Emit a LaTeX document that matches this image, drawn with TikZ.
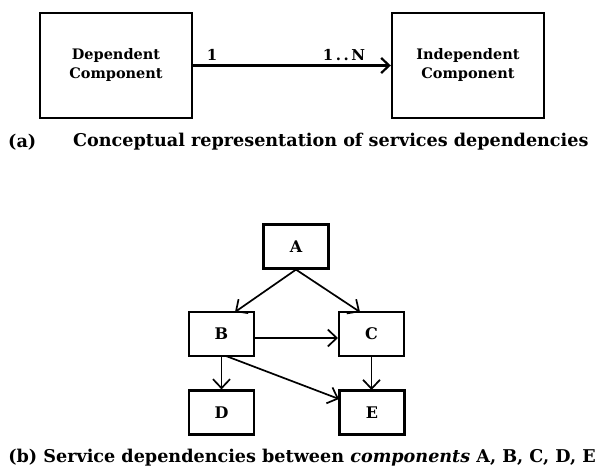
\documentclass[tikz,border=0pt]{standalone}
\usepackage{fontspec}
\setmainfont{DejaVu Serif}
\usetikzlibrary{arrows.meta}
\begin{document}
\begin{tikzpicture}[x=1pt,y=-1pt,
  bigbox/.style={draw,line width=2.4pt,minimum width=152pt,minimum height=105pt,inner sep=0pt,
    align=center,font=\bfseries\fontsize{14.5}{19}\selectfont},
  smallbox/.style={draw,line width=2.2pt,minimum width=65pt,minimum height=44pt,inner sep=0pt,
    font=\bfseries\fontsize{16}{18}\selectfont},
  toparrow/.style={line width=2.2pt,-{Straight Barb[length=8pt,width=15pt,line width=2.2pt]}},
  deparrow/.style={line width=1.7pt,-{Straight Barb[length=9pt,width=17pt,line width=1.7pt]}},
  lbl/.style={font=\bfseries\fontsize{15}{17}\selectfont,inner sep=0pt},
  captext/.style={font=\bfseries\fontsize{17.6}{20}\selectfont,inner sep=0pt,anchor=west}]
\useasboundingbox (0,0) rectangle (606,476);
% part (a)
\node[bigbox] (dep) at (116,65.5) {Dependent\\Component};
\node[bigbox] (ind) at (468,65.5) {Independent\\Component};
\draw[toparrow] (dep.east) -- (ind.west);
\node[lbl] (one) at (212,55) {1};
\node[lbl] (many) at (344,55) {1\,.\,.\,N};
\node[captext] (capa) at (8,142) {(a)};
\node[captext] (capat) at (73,142) {Conceptual representation of services dependencies};
% part (b)
\node[smallbox] (A) at (296,246.5) {A};
\node[smallbox] (B) at (221.5,334) {B};
\node[smallbox] (C) at (371.5,334) {C};
\node[smallbox] (D) at (221.5,412.5) {D};
\node[smallbox] (E) at (372,412.5) {E};
\coordinate (Bt) at (235,312);
\coordinate (Ct) at (360,312);
\coordinate (Bs) at (226,356);
\coordinate (Bc) at (253,338);
\coordinate (Cc) at (338,338);
\coordinate (Ew) at (339,399);
\coordinate (Es) at (371.5,390);
\draw[deparrow] (A.south) -- (Bt);
\draw[deparrow] (A.south) -- (Ct);
\draw[deparrow] (Bc) -- (Cc);
\draw[deparrow] (B.south) -- (D.north);
\draw[deparrow] (Bs) -- (Ew);
\draw[deparrow] (C.south) -- (Es);
\node[captext,anchor=center] (capb) at (302,458) {(b) Service dependencies between \textit{components} A, B, C, D, E};
\end{tikzpicture}
\end{document}
